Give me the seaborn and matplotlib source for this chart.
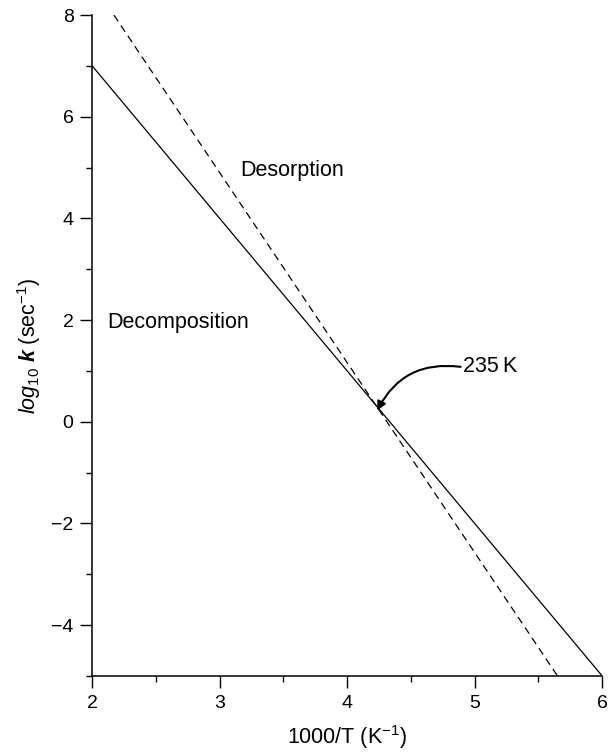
import numpy as np
import pandas as pd
import matplotlib.pyplot as plt
import seaborn as sns
from matplotlib.ticker import MultipleLocator

# ---- data ----
decomp_x = [2.0, 6.0]          # 1000/T
decomp_y = [7.0, -5.0]         # log10 k
desorb_x = [2.17, 5.65]
desorb_y = [8.0, -5.0]
cross_x = 1000 / 235           # 235 K
cross_y = 0.22

df = pd.concat([
    pd.DataFrame({"x": decomp_x, "y": decomp_y, "proc": "Decomposition"}),
    pd.DataFrame({"x": desorb_x, "y": desorb_y, "proc": "Desorption"}),
])

sns.set_theme(style="ticks")
plt.rcParams["font.family"] = ["Liberation Sans", "DejaVu Sans"]
plt.rcParams["text.color"] = "black"
plt.rcParams["axes.labelcolor"] = "black"
plt.rcParams["axes.unicode_minus"] = True
plt.rcParams["mathtext.fontset"] = "custom"
plt.rcParams["mathtext.rm"] = "Liberation Sans"
plt.rcParams["mathtext.it"] = "Liberation Sans:italic"
plt.rcParams["mathtext.bf"] = "Liberation Sans:bold"
plt.rcParams["mathtext.bfit"] = "Liberation Sans:italic:bold"

fig = plt.figure(figsize=(6.15, 7.56), dpi=100)
ax = fig.add_axes([0.150, 0.106, 0.829, 0.874])

sns.lineplot(data=df, x="x", y="y", hue="proc", style="proc",
             palette={"Decomposition": "black", "Desorption": "black"},
             dashes={"Decomposition": "", "Desorption": (6, 4)},
             linewidth=0.9, legend=False, ax=ax, sort=False)

ax.set_xlim(2, 6)
ax.set_ylim(-5, 8)
ax.xaxis.set_major_locator(MultipleLocator(1))
ax.xaxis.set_minor_locator(MultipleLocator(0.5))
ax.yaxis.set_major_locator(MultipleLocator(2))
ax.yaxis.set_minor_locator(MultipleLocator(1))
ax.tick_params(which="major", direction="out", length=8.5, width=1.0,
               labelsize=14, colors="black", pad=5)
ax.tick_params(which="minor", direction="out", length=4.3, width=1.0, colors="black")

for s in ["top", "right"]:
    ax.spines[s].set_visible(False)
for s in ["left", "bottom"]:
    ax.spines[s].set_linewidth(1.1)
    ax.spines[s].set_color("black")

ax.set_xlabel(r"1000/T (K$^{-1}$)", fontsize=15.5, labelpad=8)
ax.set_ylabel(r"$log_{10}$ $\mathbfit{k}$ (sec$^{-1}$)", fontsize=15.5, labelpad=6)

ax.text(3.16, 4.95, "Desorption", fontsize=15.5, va="center", ha="left")
ax.text(2.12, 1.95, "Decomposition", fontsize=15.5, va="center", ha="left")
ax.text(4.91, 1.08, "235\u2009K", fontsize=15.5, va="center", ha="left",
        family=["Liberation Sans", "DejaVu Sans"])
ax.annotate("", xy=(cross_x - 0.02, cross_y), xytext=(4.89, 1.08),
            arrowprops=dict(arrowstyle="-|>", color="black", lw=1.5,
                            connectionstyle="arc3,rad=0.35",
                            shrinkA=0, shrinkB=0, mutation_scale=13))

fig.savefig("out.png", dpi=100)
